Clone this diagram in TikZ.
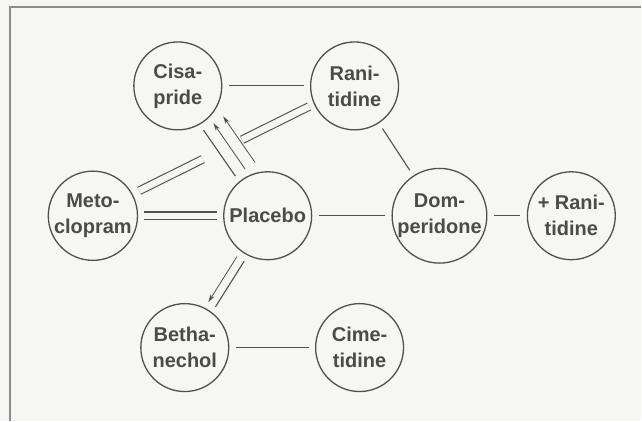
\documentclass[tikz,border=0pt]{standalone}
\usepackage{fontspec}
\setmainfont{Liberation Sans}
\usetikzlibrary{arrows.meta,calc}
\definecolor{mygray}{RGB}{80,80,80}
\definecolor{mytext}{RGB}{75,75,75}
\definecolor{myframe}{RGB}{140,140,140}
\definecolor{mypaper}{RGB}{246,246,244}

\begin{document}
\begin{tikzpicture}[x=1pt,y=-1pt,
  drug/.style={draw=mygray,circle,line width=1.3pt,minimum size=88pt,inner sep=0pt,
  outer sep=7pt,text=mytext,align=center,font=\fontsize{20}{26}\selectfont\bfseries},
  link/.style={draw=mygray,line width=1.1pt},
  twoline/.style={draw=mygray,line width=1.1pt,double=mypaper,double distance=6.5pt},
  arrowline/.style={draw=mygray,line width=0.8pt},
  >={Stealth[length=8pt,width=4.5pt]}]

  \fill[mypaper] (0,0) rectangle (642,421);
  \draw[myframe,line width=1.5pt] (10,421) -- (10,7) -- (642,7);

  \node[drug] (cisa) at (178,86) {Cisa-\\pride};
  \node[drug] (rani) at (355,86) {Rani-\\tidine};

  \node[drug] (meto) at (93,216) {Meto-\\clopram};
  \node[drug] (plac) at (268,216) {Placebo};
  \node[drug] (domp) at (440,216) {Dom-\\peridone};
  \node[drug] (prani) at (572,216) {+ Rani-\\tidine};

  \node[drug] (betha) at (185,348) {Betha-\\nechol};
  \node[drug] (cime) at (360,348) {Cime-\\tidine};

  % single trials
  \draw[link] (cisa) -- (rani);
  \draw[link] (rani) -- (domp);
  \draw[link] (plac) -- (domp);
  \draw[link] (domp) -- (prani);
  \draw[link] (betha) -- (cime);

  % double lines, the upper one broken where it crosses
  \coordinate (gap1) at ($(meto)!0.42!(rani)$);
  \coordinate (gap2) at ($(meto)!0.57!(rani)$);
  \draw[twoline] (meto) -- (plac);
  \draw[twoline,transform canvas={yshift=2pt}] (meto) -- (gap1);
  \draw[twoline,transform canvas={yshift=2pt}] (gap2) -- (rani);

  % placebo to cisapride
  \draw[link,transform canvas={shift={(-3.3,2.3)}}] (cisa) -- (plac);
  \draw[arrowline,->,transform canvas={shift={(6.6,-4.6)}}] (plac) -- (cisa);
  \draw[arrowline,->,transform canvas={shift={(16.4,-11.4)}}] (plac) -- (cisa);

  % placebo to bethanechol
  \draw[arrowline,->,transform canvas={shift={(-3.6,-2.3)}}] (plac) -- (betha);
  \draw[link,transform canvas={shift={(3.6,2.3)}}] (plac) -- (betha);
\end{tikzpicture}
\end{document}
